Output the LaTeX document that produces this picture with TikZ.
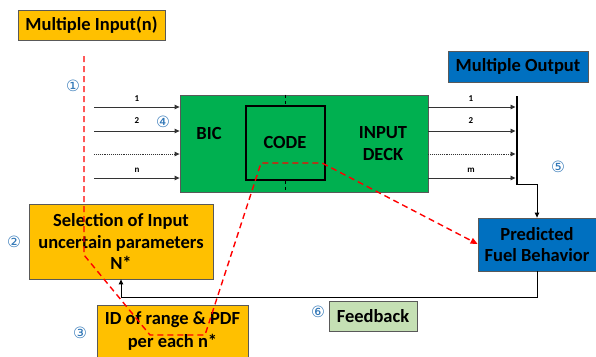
\documentclass[tikz,border=0pt]{standalone}
\usepackage{fontspec}
\setmainfont{Carlito}
\newfontfamily\symfont{DejaVu Sans}
\usetikzlibrary{arrows.meta}
\definecolor{orng}{HTML}{FFC000}
\definecolor{blu}{HTML}{0070C0}
\definecolor{grn}{HTML}{00B050}
\definecolor{lgrn}{HTML}{C5E0B4}
\definecolor{circ}{HTML}{2E75B6}
\definecolor{bordr}{HTML}{595959}
\tikzset{
  box/.style={draw=bordr, line width=0.8pt, inner sep=0pt, font=\fontsize{18.5}{21.5}\selectfont\bfseries, align=center},
  lbl/.style={font=\fontsize{18.5}{22}\selectfont\bfseries, align=center, inner sep=0pt},
  small/.style={font=\fontsize{9}{10}\selectfont\bfseries, inner sep=0pt},
  num/.style={font=\fontsize{15.5}{15.5}\selectfont\symfont, text=circ, inner sep=0pt},
  arr/.style={draw=black!80, line width=0.9pt, -{Triangle[length=5pt,width=4.5pt]}},
  reddash/.style={draw=red, line width=1.4pt, dash pattern=on 6pt off 4pt},
}
\begin{document}
\begin{tikzpicture}[x=1pt,y=-1pt]
\useasboundingbox (0,0) rectangle (596,356);
% boxes
\node[box, fill=orng, minimum width=147pt, minimum height=30pt] (inbox) at (91.5,25) {Multiple Input(n)};
\node[box, fill=blu, minimum width=140pt, minimum height=31pt] (outbox) at (518,66.5) {Multiple Output};
\node[draw=bordr, line width=0.8pt, fill=grn, minimum width=248pt, minimum height=97pt, inner sep=0pt] (green) at (304,143.5) {};
\node[draw=black, line width=1.6pt, minimum width=79pt, minimum height=74pt, inner sep=0pt] (code) at (285.5,143) {};
\node[lbl] (bic) at (209,133) {BIC};
\node[lbl] (codet) at (285,142) {CODE};
\node[lbl] (deck) at (383,144) {INPUT\\DECK};
\node[box, fill=blu, minimum width=118pt, minimum height=53pt] (pred) at (537,244.5) {Predicted\\Fuel Behavior};
\node[box, fill=orng, minimum width=184pt, minimum height=75pt] (sel) at (121,241.5) {Selection of Input\\uncertain parameters\\N*};
\node[box, fill=orng, minimum width=151pt, minimum height=60pt, text depth=0pt] (idbox) at (172.5,335) {};
\node[lbl, font=\fontsize{18.5}{23}\selectfont\bfseries] (idtext) at (172.5,331) {ID of range \& PDF\\per each n*};
\node[box, fill=lgrn, minimum width=88pt, minimum height=30pt] (fb) at (373,316) {Feedback};
% dashed ticks on code box
\draw[line width=1.6pt, dash pattern=on 3.5pt off 2.5pt] (green.north -| code.north) -- (code.north);
\draw[line width=1.6pt, dash pattern=on 3.5pt off 2.5pt] (code.south) -- (green.south -| code.south);
% input arrows
\coordinate (i1) at (94,107);
\coordinate (i2) at (94,131);
\coordinate (i3) at (94,154);
\coordinate (i4) at (94,178);
\draw[arr] (i1) -- (i1 -| green.west);
\draw[arr] (i2) -- (i2 -| green.west);
\draw[arr, densely dotted] (i3) -- (i3 -| green.west);
\draw[arr] (i4) -- (i4 -| green.west);
\node[small] (l1) at (137,99) {1};
\node[small] (l2) at (137,121) {2};
\node[small] (ln) at (137,170) {n};
% output bar and arrows
\coordinate (bt) at (517,96);
\coordinate (bb) at (517,185);
\coordinate (o1) at (515.5,107);
\coordinate (o2) at (515.5,131);
\coordinate (o3) at (515.5,154);
\coordinate (o4) at (515.5,178);
\draw[arr] (o1 -| green.east) -- (o1);
\draw[arr] (o2 -| green.east) -- (o2);
\draw[arr, densely dotted] (o3 -| green.east) -- (o3);
\draw[arr] (o4 -| green.east) -- (o4);
\draw[line width=2.6pt] (bt) -- (bb);
\node[small] (r1) at (471,99) {1};
\node[small] (r2) at (471,121) {2};
\node[small] (rm) at (471,170) {m};
\coordinate (bc) at (517,184);
\draw[arr, draw=black] (bc) -- (bc -| pred.north) -- (pred.north);
% feedback loop
\coordinate (fk) at (537,297);
\draw[arr, draw=black] (pred.south) -- (fk) -| (sel.south);
% red dashed path
\coordinate (p0) at (84,56);
\coordinate (p1) at (84,255);
\coordinate (p2) at (150,335);
\coordinate (p3) at (205,335);
\coordinate (p4) at (261,163);
\coordinate (p5) at (322,163);
\draw[reddash, -{Triangle[length=7pt,width=6pt]}] (p0) -- (p1) -- (p2) -- (p3) -- (p4) -- (p5) -- (pred.west |- 0,244) ;
% circled numbers
\node[num] (n1) at (73,86) {①};
\node[num] (n2) at (14,242) {②};
\node[num] (n3) at (80,333) {③};
\node[num] (n4) at (163,122) {④};
\node[num] (n5) at (558,167) {⑤};
\node[num] (n6) at (318,312) {⑥};
\end{tikzpicture}
\end{document}
